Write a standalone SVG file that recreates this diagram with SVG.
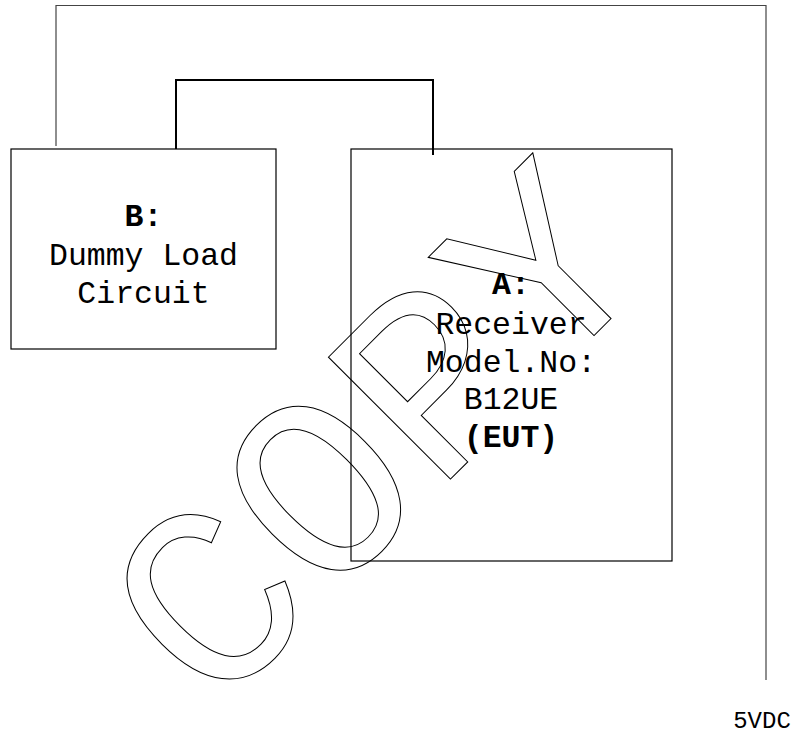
<svg xmlns="http://www.w3.org/2000/svg" width="799" height="740" viewBox="0 0 799 740">
<style>
.box{fill:none;stroke:#000;stroke-width:1.2}
.t{font-family:"Liberation Mono","DejaVu Sans Mono",monospace;font-size:31.5px;fill:#000;text-anchor:middle}
.b{font-weight:bold}
.w1{fill:none;stroke:#444;stroke-width:1.2}
.w2{fill:none;stroke:#000;stroke-width:2}
.wm{font-family:"Liberation Mono","DejaVu Sans Mono",monospace;font-size:262px;fill:none;stroke:#000;stroke-width:1;text-anchor:middle}
</style>
<rect width="799" height="740" fill="#fff"/>
<g id="connectors">
<polyline class="w1" points="56,146 56,5.5 766,5.5 766,680"/>
<polyline class="w2" points="176,149 176,80 433,80 433,155"/>
</g>
<g id="nodeB">
<rect class="box" x="11" y="149" width="265" height="200"/>
<text class="t b" x="143.5" y="226">B:</text>
<text class="t" x="143.5" y="265">Dummy Load</text>
<text class="t" x="143.5" y="303">Circuit</text>
</g>
<g id="nodeA">
<rect class="box" x="351" y="149" width="321" height="412"/>
<text class="t b" x="511" y="294">A:</text>
<text class="t" x="511" y="334">Receiver</text>
<text class="t" x="511" y="372">Model.No:</text>
<text class="t" x="511" y="409">B12UE</text>
<text class="t b" x="511" y="447">(EUT)</text>
</g>
<g id="label5vdc">
<text class="t" style="font-size:24px" x="762" y="728">5VDC</text>
</g>
<g id="watermark">
<text class="wm" transform="translate(375,433) rotate(-45)" x="0" y="86">COPY</text>
</g>
</svg>
